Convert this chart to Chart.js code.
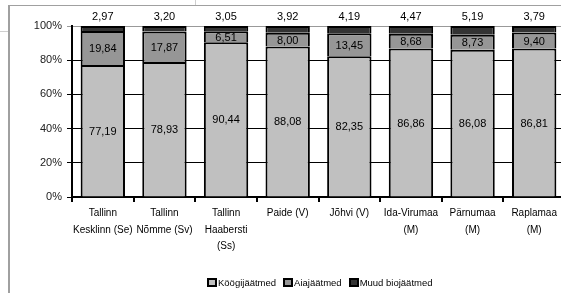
<!DOCTYPE html>
<html>
<head>
<meta charset="utf-8">
<script src="https://cdn.jsdelivr.net/npm/chart.js@4/dist/chart.umd.min.js"></script>
<style>
  body { margin: 0; background: #fff; overflow: hidden; }
  #wrap { position: relative; width: 561px; height: 293px; overflow: hidden; }
  #chart { position: absolute; left: 0; top: 0; }
  .frame { position: absolute; background: #a0a0a0; }
  #legend { position: absolute; left: 207px; top: 276px; height: 12px; display: flex; align-items: center;
            font: 9.5px 'Liberation Sans Narrow', 'Arial Narrow', 'Liberation Sans', sans-serif; color: #000; }
  #legend span.item { display: flex; align-items: center; margin-right: 7px; }
  #legend span.box { display: inline-block; width: 6px; height: 5px; border: 2px solid #000; margin-right: 1px; }
</style>
</head>
<body>
<div id="wrap">
  <div class="frame" style="left:8px; top:5px; width:2px; height:288px;"></div>
  <div class="frame" style="left:8px; top:5px; width:553px; height:1px;"></div>
  <div class="frame" style="left:0; top:31px; width:8px; height:1px; background:#cfcfcf;"></div>
  <div class="frame" style="left:195px; top:0; width:1px; height:5px; background:#cfcfcf;"></div>
  <canvas id="chart" width="565" height="293"></canvas>
  <div id="legend"></div>
</div>
<script>
let categories = [
    ["Tallinn", "Kesklinn (Se)"],
    ["Tallinn", "Nõmme (Sv)"],
    ["Tallinn", "Haabersti", "(Ss)"],
    "Paide (V)",
    "Jõhvi (V)",
    ["Ida-Virumaa", "(M)"],
    ["Pärnumaa", "(M)"],
    ["Raplamaa", "(M)"]
];
let seriesNames = ["Köögijäätmed", "Aiajäätmed", "Muud biojäätmed"];
let kitchen = [77.19, 78.93, 90.44, 88.08, 82.35, 86.86, 86.08, 86.81];
let garden = [19.84, 17.87, 6.51, 8.00, 13.45, 8.68, 8.73, 9.40];
let other = [2.97, 3.20, 3.05, 3.92, 4.19, 4.47, 5.19, 3.79];
let yTicks = [0, 20, 40, 60, 80, 100];

let fontFamily = "'Liberation Sans', Arial, sans-serif";

function fmt(v) {
    return v.toFixed(2).replace(".", ",");
}

// draws the value labels (inside for first two series, above bar for last)
let valueLabels = {
    id: "valueLabels",
    afterDatasetsDraw(chart) {
        let ctx = chart.ctx;
        ctx.save();
        ctx.font = "11px " + fontFamily;
        ctx.fillStyle = "#000";
        ctx.textAlign = "center";
        ctx.textBaseline = "middle";
        chart.data.datasets.forEach((ds, di) => {
            let meta = chart.getDatasetMeta(di);
            meta.data.forEach((bar, i) => {
                let v = ds.data[i];
                if (di < 2) {
                    ctx.fillText(fmt(v), bar.x, (bar.y + bar.base) / 2 + 1);
                } else {
                    ctx.fillText(fmt(v), bar.x, bar.y - 9);
                }
            });
        });
        ctx.restore();
    }
};

let barStyle = { borderColor: "#000", borderWidth: 2, barPercentage: 0.72, categoryPercentage: 1 };

let chart = new Chart(document.getElementById("chart"), {
    type: "bar",
    data: {
        labels: categories,
        datasets: [
            Object.assign({ label: seriesNames[0], data: kitchen, backgroundColor: "#c0c0c0" }, barStyle),
            Object.assign({ label: seriesNames[1], data: garden, backgroundColor: "#969696" }, barStyle),
            Object.assign({ label: seriesNames[2], data: other, backgroundColor: "#333333" }, barStyle)
        ]
    },
    options: {
        responsive: false,
        animation: false,
        layout: { padding: { top: 26, left: 0, right: 0, bottom: 0 } },
        plugins: {
            tooltip: { enabled: false },
            legend: { display: false }
        },
        scales: {
            x: {
                stacked: true,
                grid: { offset: true, drawOnChartArea: false, drawTicks: true, tickLength: 5, color: "#000", lineWidth: 2 },
                border: { color: "#000", width: 2 },
                ticks: {
                    color: "#000",
                    maxRotation: 0,
                    autoSkip: false,
                    padding: 3,
                    font: { family: fontFamily, size: 10, lineHeight: 1.65 }
                },
                afterFit: scale => { scale.height = 96; }
            },
            y: {
                stacked: true,
                min: 0,
                max: 100,
                afterBuildTicks: scale => { scale.ticks = yTicks.map(v => ({ value: v })); },
                afterFit: scale => { scale.width = 72; },
                grid: {
                    color: ctx => (ctx.tick && ctx.tick.value === 100 ? "#999" : "#000"),
                    lineWidth: 1,
                    tickLength: 5
                },
                border: { color: "#000", width: 2 },
                ticks: {
                    color: "#222",
                    padding: 5,
                    font: { family: fontFamily, size: 11 },
                    callback: v => v + "%"
                }
            }
        }
    },
    plugins: [valueLabels]
});

// legend built from the chart's datasets
let legend = document.getElementById("legend");
chart.data.datasets.forEach(ds => {
    let item = document.createElement("span");
    item.className = "item";
    let box = document.createElement("span");
    box.className = "box";
    box.style.background = ds.backgroundColor;
    item.appendChild(box);
    item.appendChild(document.createTextNode(ds.label));
    legend.appendChild(item);
});
</script>
</body>
</html>
